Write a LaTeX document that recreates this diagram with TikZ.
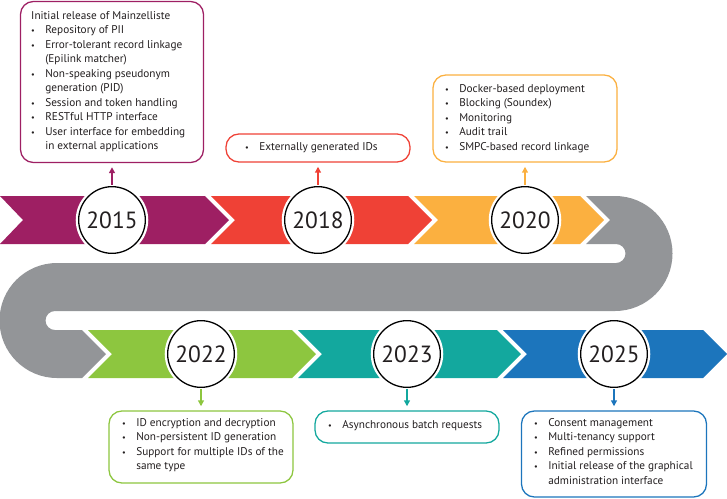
\documentclass[tikz,border=0pt]{standalone}
\usepackage{fontspec}
\setmainfont{PT Sans}
\usetikzlibrary{arrows.meta}
\definecolor{mzpurple}{RGB}{158,31,99}
\definecolor{mzred}{RGB}{239,65,54}
\definecolor{mzorange}{RGB}{251,176,64}
\definecolor{mzgray}{RGB}{147,149,152}
\definecolor{mzgreen}{RGB}{141,198,63}
\definecolor{mzteal}{RGB}{19,168,158}
\definecolor{mzblue}{RGB}{28,117,188}
\definecolor{mztext}{RGB}{35,31,32}
\newcommand{\bl}{\makebox[12pt][l]{\scriptsize\textbullet}}
\newcommand{\ind}{\hspace*{12pt}}
\begin{document}
\begin{tikzpicture}[x = 0.03cm, y = -0.03cm,
  every node/.style = {text = mztext},
  year/.style = {circle, draw = black, fill = white, line width = 1.1pt, minimum size = 2cm, inner sep = 0pt,
    font = \fontsize{20}{24}\selectfont, preaction = {draw = white, line width = 5pt}},
  box/.style = {draw = #1, fill = white, rounded corners = 11pt, line width = 1.1pt, inner sep = 0pt},
  notes/.style = {anchor = north west, inner sep = 0pt, align = left, font = \fontsize{9.6}{12.4}\selectfont},
  link/.style = {draw = #1, line width = 1.1pt, -{Triangle[width = 5pt, length = 5pt]}, shorten < = 1pt, shorten > = 3.5pt}]
\useasboundingbox (0,0) rectangle (727,498);
% timeline bands
\fill[mzpurple] (0,196) -- (205,196) -- (229,220) -- (205,244) -- (0,244) -- (23,220) -- cycle;
\fill[mzred] (211,196) -- (408,196) -- (432,220) -- (408,244) -- (211,244) -- (235,220) -- cycle;
\fill[mzorange] (414,196) -- (580,196) -- (604,220) -- (580,244) -- (414,244) -- (438,220) -- cycle;
\fill[mzgray] (586,196) -- (615,196) arc[start angle = -90, end angle = 90, radius = 57.5] -- (55,311)
  arc[start angle = -90, end angle = -270, radius = 9.5] -- (82,330) -- (106,354) -- (82,378) -- (57,378)
  arc[start angle = 90, end angle = 270, radius = 57.5] -- (616,263)
  arc[start angle = 90, end angle = -90, radius = 9.5] -- (586,244) -- (610,220) -- cycle;
\fill[mzgreen] (88,330) -- (292,330) -- (316,354) -- (292,378) -- (88,378) -- (112,354) -- cycle;
\fill[mzteal] (298,330) -- (497,330) -- (521,354) -- (497,378) -- (298,378) -- (322,354) -- cycle;
\fill[mzblue] (503,330) -- (703,330) -- (727,354) -- (703,378) -- (503,378) -- (527,354) -- cycle;
% years
\node[year] at (112,220) (c2015) {2015};
\node[year] at (318,220) (c2018) {2018};
\node[year] at (525,220) (c2020) {2020};
\node[year] at (201,354) (c2022) {2022};
\node[year] at (407,354) (c2023) {2023};
\node[year] at (614,354) (c2025) {2025};
% boxes
\node[box = mzpurple, minimum width = 5.49cm, minimum height = 4.83cm] at (112,82) (b2015) {};
\node[box = mzred, minimum width = 5.52cm, minimum height = 0.84cm] at (318,148) (b2018) {};
\node[box = mzorange, minimum width = 5.52cm, minimum height = 2.61cm] at (525,118.5) (b2020) {};
\node[box = mzgreen, minimum width = 5.52cm, minimum height = 2.16cm] at (201,447) (b2022) {};
\node[box = mzteal, minimum width = 5.52cm, minimum height = 0.96cm] at (407,427) (b2023) {};
\node[box = mzblue, minimum width = 5.55cm, minimum height = 2.58cm] at (614,454) (b2025) {};
% notes
\node[notes] at (31,11) (t2015) {Initial release of Mainzelliste\\
  \bl Repository of PII\\
  \bl Error-tolerant record linkage\\
  \ind (Epilink matcher)\\
  \bl Non-speaking pseudonym\\
  \ind generation (PID)\\
  \bl Session and token handling\\
  \bl RESTful HTTP interface\\
  \bl User interface for embedding\\
  \ind in external applications};
\node[notes] at (245,142) (t2018) {\bl Externally generated IDs};
\node[notes] at (445,84) (t2020) {\bl Docker-based deployment\\
  \bl Blocking (Soundex)\\
  \bl Monitoring\\
  \bl Audit trail\\
  \bl SMPC-based record linkage};
\node[notes] at (122,418) (t2022) {\bl ID encryption and decryption\\
  \bl Non-persistent ID generation\\
  \bl Support for multiple IDs of the\\
  \ind same type};
\node[notes] at (328,420) (t2023) {\bl Asynchronous batch requests};
\node[notes] at (534,418) (t2025) {\bl Consent management\\
  \bl Multi-tenancy support\\
  \bl Refined permissions\\
  \bl Initial release of the graphical\\
  \ind administration interface};
% links
\draw[link = mzpurple] (c2015) -- (b2015);
\draw[link = mzred] (c2018) -- (b2018);
\draw[link = mzorange] (c2020) -- (b2020);
\draw[link = mzgreen] (c2022) -- (b2022);
\draw[link = mzteal] (c2023) -- (b2023);
\draw[link = mzblue] (c2025) -- (b2025);
\end{tikzpicture}
\end{document}
